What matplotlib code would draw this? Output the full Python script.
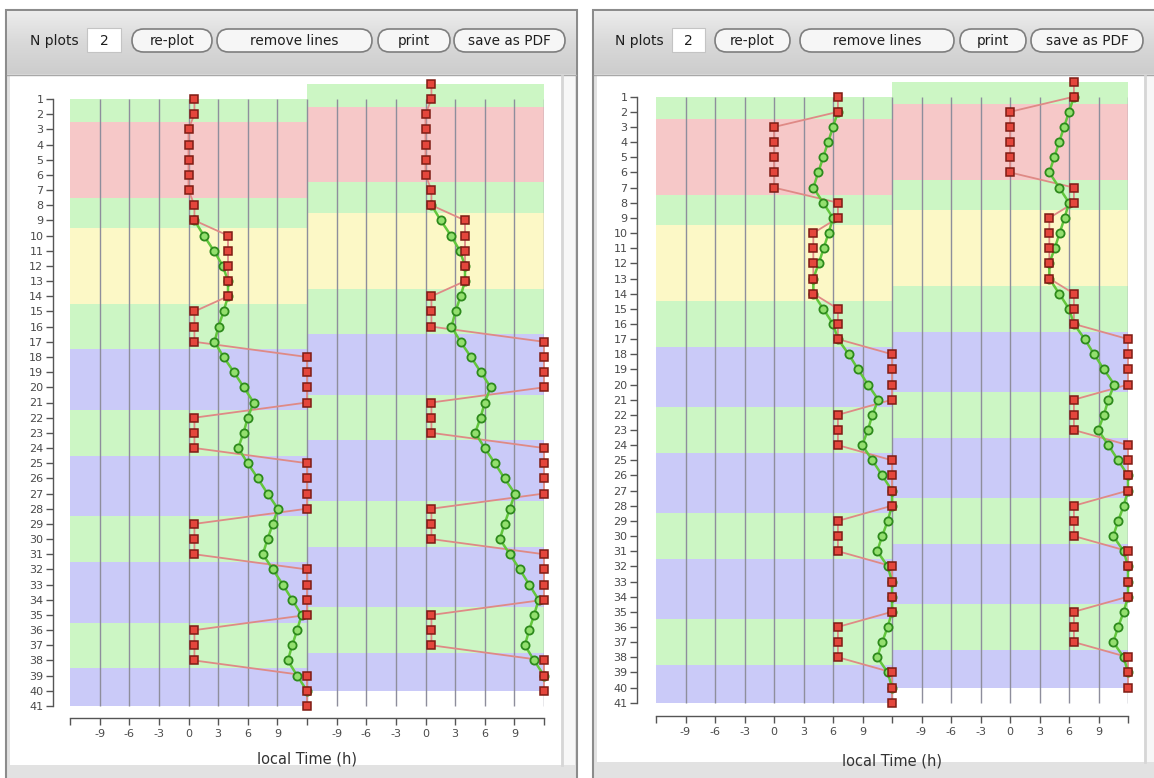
import numpy as np
import matplotlib.pyplot as plt
from matplotlib.patches import Rectangle, FancyBboxPatch
from matplotlib.colors import LinearSegmentedColormap

# ---------------------------------------------------------------------------
# Data
# ---------------------------------------------------------------------------
days = np.arange(1, 42)

# background bands per block of days
band_start = [1, 3, 8, 10, 15, 18, 22, 25, 29, 32, 36, 39]
band_end = [2, 7, 9, 14, 17, 21, 24, 28, 31, 35, 38, 41]
band_kind = ['g', 'r', 'g', 'y', 'g', 'b', 'g', 'b', 'g', 'b', 'g', 'b']

# left window: red squares (one per day) and green circles
sleep_a = [0.6, 0.6, 0, 0, 0, 0, 0, 0.6, 0.6, 4, 4, 4, 4, 4, 0.6, 0.6, 0.6,
           12, 12, 12, 12, 0.6, 0.6, 0.6, 12, 12, 12, 12, 0.6, 0.6, 0.6,
           12, 12, 12, 12, 0.6, 0.6, 0.6, 12, 12, 12]
phase_a_days = np.arange(9, 41)
phase_a = [0.6, 1.55, 2.57, 3.48, 4.0, 4.0, 3.55, 3.04, 2.63, 3.55, 4.6, 5.6,
           6.6, 6.0, 5.57, 5.03, 6.0, 7.02, 8.0, 9.05, 8.54, 8.0, 7.53, 8.54,
           9.55, 10.5, 11.45, 11.0, 10.5, 10.06, 11.0, 12.0]

# right window
sleep_b = [6.5, 6.5, 0, 0, 0, 0, 0, 6.5, 6.5, 4, 4, 4, 4, 4, 6.5, 6.5, 6.5,
           12, 12, 12, 12, 6.5, 6.5, 6.5, 12, 12, 12, 12, 6.5, 6.5, 6.5,
           12, 12, 12, 12, 6.5, 6.5, 6.5, 12, 12, 12]
phase_b_days = np.arange(2, 41)
phase_b = [6.5, 6.0, 5.5, 5.0, 4.5, 4.0, 5.0, 6.0, 5.55, 5.05, 4.55, 4.0, 4.0,
           5.0, 6.0, 6.5, 7.6, 8.55, 9.55, 10.6, 10.0, 9.55, 8.97, 10.0, 11.0,
           12.0, 12.0, 11.56, 11.0, 10.5, 11.56, 12.0, 12.0, 12.0, 11.56, 11.0,
           10.5, 11.56, 12.0]

tick_pos = np.arange(-12, 37, 3)
tick_txt = ['', '-9', '-6', '-3', '0', '3', '6', '9', '',
            '-9', '-6', '-3', '0', '3', '6', '9', '']
grid_pos = [-9, -6, -3, 0, 3, 6, 9, 12, 15, 18, 21, 24, 27, 30, 33, 36]
buttons = ['re-plot', 'remove lines', 'print', 'save as PDF']

band_colors = {'g': '#ccf6c4', 'r': '#f6c8c8', 'y': '#fcf8c6', 'b': '#cacaf8'}

# ---------------------------------------------------------------------------
# Figure + window chrome (pixel coordinates)
# ---------------------------------------------------------------------------
W, H = 1154, 778
fig = plt.figure(figsize=(W / 100, H / 100), dpi=100)
bg = fig.add_axes([0, 0, 1, 1])
bg.set_xlim(0, W)
bg.set_ylim(H, 0)
bg.axis('off')

toolbar_cmap = LinearSegmentedColormap.from_list('tb', ['#ececec', '#d9d9d9', '#cdcdcd'])
grad = np.linspace(0, 1, 64).reshape(-1, 1)


def draw_window(x0, x1, content_right, content_bottom, nplots_x, field, btns):
    bg.add_patch(Rectangle((x0, 10), x1 - x0, 800, fc='#e2e2e2', ec='#8c8c8c', lw=1.5, zorder=1))
    bg.imshow(grad, extent=[x0 + 1, x1 - 1, 74, 11], cmap=toolbar_cmap, aspect='auto', zorder=2)
    bg.plot([x0 + 1, x1 - 1], [74.5, 74.5], color='#a8a8a8', lw=1, zorder=3)
    bg.add_patch(Rectangle((x0 + 4, 75.5), content_right - x0 - 4, content_bottom - 75.5,
                           fc='white', ec='none', zorder=2))
    bg.add_patch(Rectangle((content_right, 75.5), x1 - content_right - 2, content_bottom - 75.5,
                           fc='#f7f7f7', ec='none', zorder=2))
    bg.plot([content_right + 1, content_right + 1], [76, content_bottom], color='#d6d6d6', lw=2, zorder=3)

    bg.text(nplots_x, 41, 'N plots', fontsize=10, color='#1e1e1e', va='center', ha='left', zorder=4)
    bg.add_patch(Rectangle((field[0], 28), field[1] - field[0], 24, fc='white', ec='#c4c4c4', lw=0.8, zorder=4))
    bg.text((field[0] + field[1]) / 2, 41, '2', fontsize=10, color='#1e1e1e', ha='center', va='center', zorder=5)
    for name, (bx0, bx1) in zip(buttons, btns):
        bg.add_patch(FancyBboxPatch((bx0, 29), bx1 - bx0, 23,
                                    boxstyle='round,pad=0,rounding_size=11.5',
                                    fc='#f6f6f6', ec='#7e7e7e', lw=1.2, zorder=4))
        bg.text((bx0 + bx1) / 2, 41, name, fontsize=9.8, color='#1e1e1e', ha='center', va='center', zorder=5)


draw_window(6, 577, 561, 765, 30, (87, 121),
            [(132, 212), (217, 372), (378, 450), (454, 565)])
draw_window(593, 1170, 1144, 762, 615, (672, 705),
            [(715, 790), (800, 954), (960, 1026), (1031, 1143)])


# ---------------------------------------------------------------------------
# Plot panels
# ---------------------------------------------------------------------------
def draw_panel(px_left, px_right, row1_px, row_h, sleep, ph_days, phase,
               out_left, out_bottom, label_top):
    top = row1_px - 1.5 * row_h
    bottom = row1_px + 40.5 * row_h
    ax = fig.add_axes([px_left / W, 1 - bottom / H, (px_right - px_left) / W, (bottom - top) / H])
    ax.set_xlim(-12, 36)
    ax.set_ylim(41.5, -0.5)
    ax.patch.set_alpha(0)

    # banden: linkerhelft dag d op rij d, rechterhelft een rij omhoog
    for s, e, k in zip(band_start, band_end, band_kind):
        r0 = max(s - 0.5, 1)
        r1 = min(e + 0.5, 41)
        ax.barh((r0 + r1) / 2, 24, height=r1 - r0, left=-12, color=band_colors[k], lw=0, zorder=0)
        ax.barh((r0 + r1) / 2 - 1, 24, height=r1 - r0, left=12, color=band_colors[k], lw=0, zorder=0)

    ax.vlines(grid_pos, 1, 41, color='#8e8e9c', lw=1.0, zorder=1)

    sleep = np.array(sleep, dtype=float)
    phase = np.array(phase, dtype=float)
    for dx, dy in [(0, 0), (24, -1)]:
        ax.plot(sleep + dx, days + dy, color='#df8a86', lw=1.3, zorder=2, clip_on=False)
        ax.plot(phase + dx, ph_days + dy, color='#62c63c', lw=1.8, zorder=3, clip_on=False)
        ax.plot(phase + dx, ph_days + dy, ls='none', marker='o', ms=5.9, mfc='#93df6e',
                mec='#2d8a1c', mew=1.3, zorder=4, clip_on=False)
        ax.plot(sleep + dx, days + dy, ls='none', marker='s', ms=6.3, mfc='#e4463c',
                mec='#7e1c14', mew=1.1, zorder=5, clip_on=False)

    for sp in ['top', 'right']:
        ax.spines[sp].set_visible(False)
    ax.spines['left'].set_position(('outward', out_left))
    ax.spines['left'].set_bounds(1, 41)
    ax.spines['bottom'].set_position(('outward', out_bottom))
    ax.spines['bottom'].set_bounds(-12, 36)
    for sp in ['left', 'bottom']:
        ax.spines[sp].set_color('#555555')
        ax.spines[sp].set_linewidth(1.0)

    ax.set_yticks(days)
    ax.set_yticklabels([str(d) for d in days])
    ax.set_xticks(tick_pos)
    ax.set_xticklabels(tick_txt)
    ax.tick_params(axis='y', length=5, width=1, color='#555555', labelcolor='#4a4a4a',
                   labelsize=8, pad=2)
    ax.tick_params(axis='x', length=5, width=1, color='#555555', labelcolor='#4a4a4a',
                   labelsize=8, pad=3)

    ax.set_xlabel('local Time (h)', fontsize=10.5, color='#333333')
    ax.xaxis.set_label_coords(0.5, -(label_top - bottom) / (bottom - top))
    return ax


draw_panel(70, 544, 99.0, 15.175, sleep_a, phase_a_days, phase_a, 12.2, 3.2, 751)
draw_panel(656, 1128, 96.7, 15.15, sleep_b, phase_b_days, phase_b, 13.4, 4.1, 753)

plt.savefig('out.png', dpi=100)
